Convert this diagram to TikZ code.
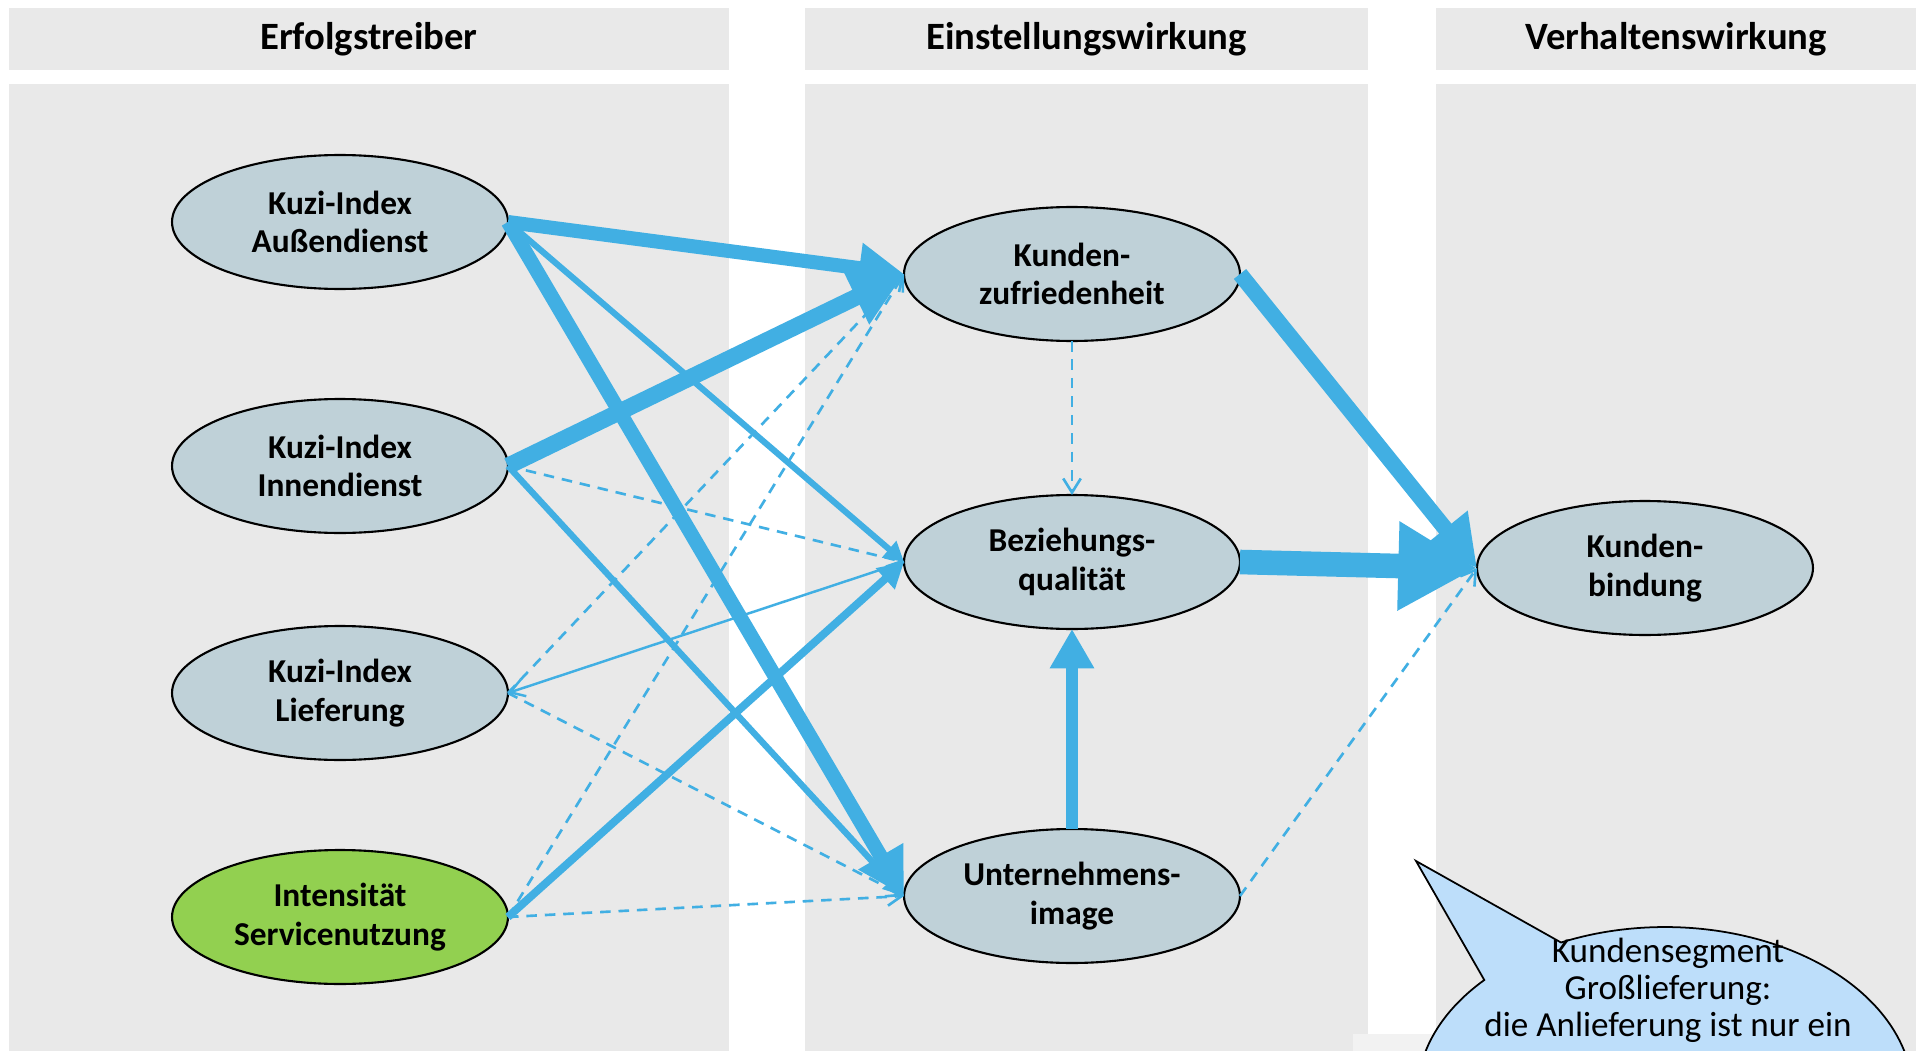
\documentclass[tikz,border=0pt]{standalone}
\usepackage{fontspec}
\setmainfont{Carlito}
\usetikzlibrary{arrows.meta,shapes.geometric,shapes.callouts}
\definecolor{Panel}{HTML}{E9E9E9}
\definecolor{Faint}{HTML}{F2F2F2}
\definecolor{Slate}{HTML}{BFD1D8}
\definecolor{Leaf}{HTML}{92D050}
\definecolor{Sky}{HTML}{41AFE3}
\definecolor{Bubble}{HTML}{BDDEFA}

\begin{document}
\begin{tikzpicture}[x=0.02cm,y=-0.02cm,
    hdr/.style={fill=Panel,minimum height=1.24cm,inner sep=0pt,font=\fontsize{22}{26}\selectfont\bfseries},
    fac/.style={ellipse,draw,line width=1.2pt,fill=Slate,minimum width=6.72cm,minimum height=2.68cm,inner sep=0pt,outer sep=0pt,align=center,font=\fontsize{19}{22}\selectfont\bfseries},
    arr/.style={draw=Sky,-{Triangle[length=0pt 3.2,width=0pt 3.4]}},
    lite/.style={draw=Sky,line width=1.4pt,-{Straight Barb[length=8pt,width=10pt]}},
    dsh/.style={lite,line width=1.5pt,dash pattern=on 6pt off 4.5pt}
  ]
    \useasboundingbox (0,0) rectangle (1921,1051);
    \clip (0,0) rectangle (1921,1051);
    \fill[white] (0,0) rectangle (1921,1051);

    % columns
    \node[hdr,minimum width=14.4cm] (h1) at (369,39) {Erfolgstreiber};
    \node[hdr,minimum width=11.26cm] (h2) at (1086.5,39) {Einstellungswirkung};
    \node[hdr,minimum width=9.6cm] (h3) at (1676,39) {Verhaltenswirkung};
    \fill[Panel] (9,84) rectangle (729,1060);
    \fill[Panel] (805,84) rectangle (1368,1060);
    \fill[Panel] (1436,84) rectangle (1916,1060);
    \fill[Faint] (1353,1034) rectangle (1440,1060);

    % factors
    \node[fac] (ad) at (340,222) {Kuzi-Index\\Außendienst};
    \node[fac] (id) at (340,466) {Kuzi-Index\\Innendienst};
    \node[fac] (li) at (340,693) {Kuzi-Index\\Lieferung};
    \node[fac,fill=Leaf] (is) at (340,917) {Intensität\\Servicenutzung};
    \node[fac] (kz) at (1072,274) {Kunden-\\zufriedenheit};
    \node[fac] (bq) at (1072,562) {Beziehungs-\\qualität};
    \node[fac] (ui) at (1072,896) {Unternehmens-\\image};
    \node[fac] (kb) at (1645,568) {Kunden-\\bindung};

    % paths
    \draw[arr,line width=8pt] (ad.east) -- (kz.west);
    \draw[arr,line width=3.5pt] (ad.east) -- (bq.west);
    \draw[arr,line width=8.2pt] (ad.east) -- (ui.west);
    \draw[arr,line width=9.5pt] (id.east) -- (kz.west);
    \draw[dsh] (id.east) -- (bq.west);
    \draw[arr,line width=3.6pt] (id.east) -- (ui.west);
    \draw[lite] (bq.west) -- (li.east);
    \draw[dsh] (li.east) -- (kz.west);
    \draw[dsh] (li.east) -- (ui.west);
    \draw[dsh] (is.east) -- (kz.west);
    \draw[arr,line width=4.5pt] (is.east) -- (bq.west);
    \draw[dsh] (is.east) -- (ui.west);
    \draw[dsh] (kz.south) -- (bq.north);
    \draw[arr,line width=7pt] (ui.north) -- (bq.south);
    \draw[arr,line width=9pt] (kz.east) -- (kb.west);
    \draw[arr,line width=14pt] (bq.east) -- (kb.west);
    \draw[dsh] (ui.east) -- (kb.west);

    % note
    \coordinate (tip) at (1416,861);
    \node[ellipse callout,draw,line width=1pt,fill=Bubble,minimum width=9.92cm,minimum height=6.72cm,inner sep=0pt,callout absolute pointer=(tip),callout pointer arc=22] (note) at (1665,1095) {};
    \node[font=\fontsize{20}{21}\selectfont,align=center] (notetext) at (1668,990) {Kundensegment\\Großlieferung:\\die Anlieferung ist nur ein};
  \end{tikzpicture}
\end{document}
